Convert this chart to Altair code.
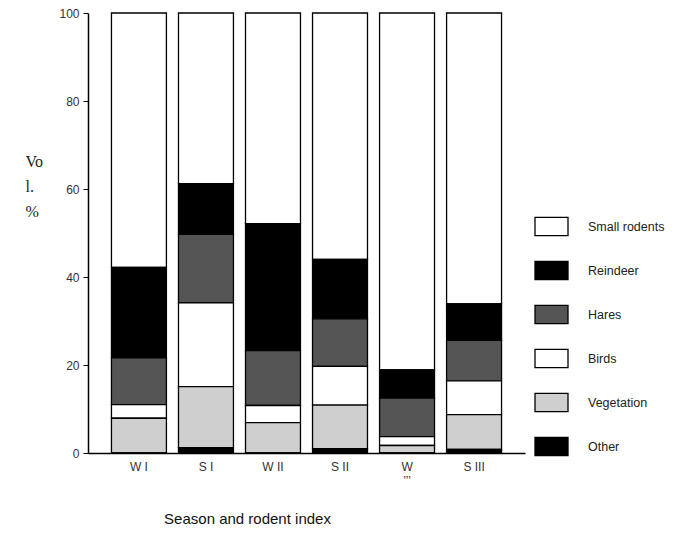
import altair as alt
import pandas as pd

categories = ["W I", "S I", "W II", "S II", "W III", "S III"]
other = [0, 1.2, 0, 1.0, 0, 0.8]
vegetation = [7.9, 13.9, 6.9, 9.9, 1.7, 7.9]
birds = [3.1, 19.0, 3.9, 8.8, 2.0, 7.7]
hares = [10.6, 15.6, 12.5, 10.8, 8.8, 9.2]
reindeer = [20.6, 11.5, 28.8, 13.5, 6.4, 8.3]
small_rodents = [57.8, 38.8, 47.9, 56.0, 81.1, 66.1]

series_names = ["Small rodents", "Reindeer", "Hares", "Birds", "Vegetation", "Other"]
series_colors = ["#ffffff", "#000000", "#555555", "#ffffff", "#cfcfcf", "#000000"]
series_values = [small_rodents, reindeer, hares, birds, vegetation, other]

rows = []
for si, (name, vals) in enumerate(zip(series_names, series_values)):
    for cat, v in zip(categories, vals):
        rows.append({"season": cat, "series": name, "value": v,
                     "stack_order": len(series_names) - 1 - si})
df = pd.DataFrame(rows)

chart = alt.Chart(df).mark_bar(stroke="black", strokeWidth=1.3).encode(
    x=alt.X("season:N", sort=categories,
            scale=alt.Scale(paddingInner=0.18, paddingOuter=0.35),
            axis=alt.Axis(title="Season and rodent index", labelAngle=0, ticks=False,
                          domainColor="black", domainWidth=1.5,
                          labelExpr="datum.value == 'W III' ? ['W', '\u2019\u2019\u2019'] : datum.value",
                          labelFont="Liberation Sans", labelFontSize=12, labelColor="#333",
                          labelPadding=8,
                          titleFont="Liberation Sans", titleFontSize=15, titleFontWeight="normal",
                          titleColor="#111", titleX=159, titleY=65, titleAnchor="start",
                          titleAlign="center", titleBaseline="middle")),
    y=alt.Y("value:Q", stack="zero",
            scale=alt.Scale(domain=[0, 100], nice=False),
            axis=alt.Axis(values=[0, 20, 40, 60, 80, 100], grid=False,
                          title=["Vo", "l.", "%"], titleAngle=0, titleX=-63, titleY=140,
                          titleAlign="left", titleBaseline="top", titleLineHeight=25,
                          titleFont="Liberation Serif", titleFontSize=16,
                          titleFontWeight="normal", titleColor="#222",
                          domainColor="black", domainWidth=1.5, tickColor="black",
                          tickSize=5, labelFont="Liberation Sans", labelFontSize=12,
                          labelColor="#333", labelPadding=4)),
    color=alt.Color("series:N",
                    scale=alt.Scale(domain=series_names, range=series_colors),
                    legend=alt.Legend(title=None, orient="none", legendX=446, legendY=196,
                                      direction="vertical",
                                      symbolType="M-1,-0.55H1V0.55H-1Z", symbolSize=1089,
                                      symbolStrokeColor="black", symbolStrokeWidth=1.3,
                                      symbolOpacity=1,
                                      labelFont="Liberation Sans", labelFontSize=12.5,
                                      labelColor="#222", labelOffset=19, rowPadding=14)),
    order=alt.Order("stack_order:Q", sort="ascending"),
).properties(
    width=437, height=440,
    autosize=alt.AutoSizeParams(type="none"),
    padding={"left": 80, "top": 5, "right": 167, "bottom": 73},
).configure_view(stroke=None)

chart.save("out.html", embed_options={"renderer": "svg", "actions": False})
